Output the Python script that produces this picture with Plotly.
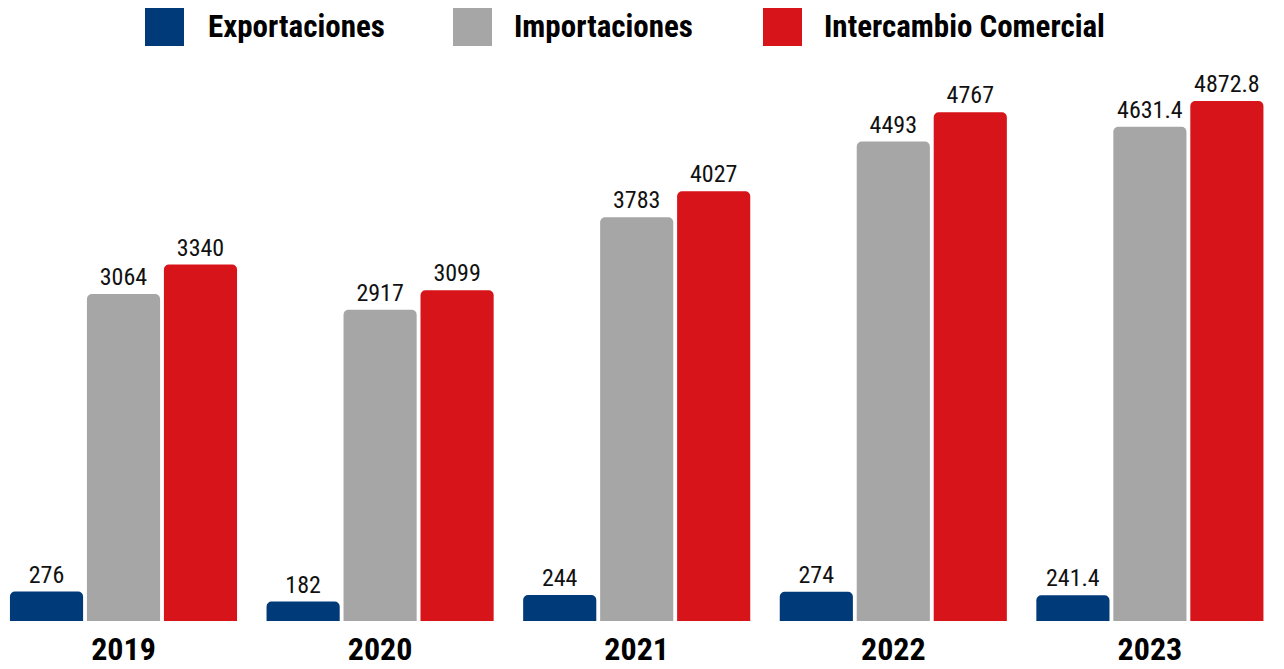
import plotly.graph_objects as go

years = ["2019", "2020", "2021", "2022", "2023"]
exportaciones = [276, 182, 244, 274, 241.4]
importaciones = [3064, 2917, 3783, 4493, 4631.4]
intercambio = [3340, 3099, 4027, 4767, 4872.8]
series_names = ["Exportaciones", "Importaciones", "Intercambio Comercial"]
colors = ["#003A78", "#A6A6A6", "#D7141A"]

FONT = "Roboto Condensed, Liberation Sans Narrow, Arial Narrow, DejaVu Sans Condensed, Roboto, sans-serif"

OFF = 8  # page body margin
W, H = 1284 - OFF, 669 - OFF
PLOT_TOP, PLOT_BOTTOM = 60 - OFF, 621 - OFF

def fmt(v):
    return f"{v:g}"

fig = go.Figure()
for name, vals, col in zip(series_names, [exportaciones, importaciones, intercambio], colors):
    fig.add_trace(go.Bar(
        x=years, y=vals, name=name,
        marker=dict(color=col, cornerradius=5, line=dict(width=0)),
        text=[fmt(v) for v in vals], textposition="outside",
        textfont=dict(family=FONT, size=24, color="#111111"),
        cliponaxis=False, showlegend=False,
    ))

def px_x(p):
    return (p - OFF) / W

def px_y(p):
    return (PLOT_BOTTOM - (p - OFF)) / (PLOT_BOTTOM - PLOT_TOP)

shapes = []
annotations = []
sq_x = [145, 453, 763]
txt_x = [207, 513, 823]
for name, col, sx, tx in zip(series_names, colors, sq_x, txt_x):
    shapes.append(dict(type="rect", xref="paper", yref="paper",
                       x0=px_x(sx), x1=px_x(sx + 39), y0=px_y(46), y1=px_y(8),
                       fillcolor=col, line=dict(width=0)))
    annotations.append(dict(text=f"<b>{name}</b>", xref="paper", yref="paper",
                            x=px_x(tx - 1), y=px_y(26.5), xanchor="left", yanchor="middle",
                            showarrow=False, font=dict(family=FONT, size=31, color="#000000")))

step = 256.6
r0 = -(123.5 - OFF) / step
r1 = r0 + W / step

fig.update_layout(
    width=W, height=H,
    margin=dict(l=0, r=0, t=PLOT_TOP, b=H - PLOT_BOTTOM, autoexpand=False),
    plot_bgcolor="white", paper_bgcolor="white",
    barmode="group", bargap=0.1, bargroupgap=0.05,
    xaxis=dict(range=[r0, r1], showgrid=False, zeroline=False, showline=False,
               tickfont=dict(family=FONT, size=32, color="#000000", weight="bold"),
               ticks="", ticklabelstandoff=6, automargin=False),
    yaxis=dict(range=[0, 5257], visible=False),
    shapes=shapes, annotations=annotations,
    font=dict(family=FONT),
)

fig.write_html("out.html")
